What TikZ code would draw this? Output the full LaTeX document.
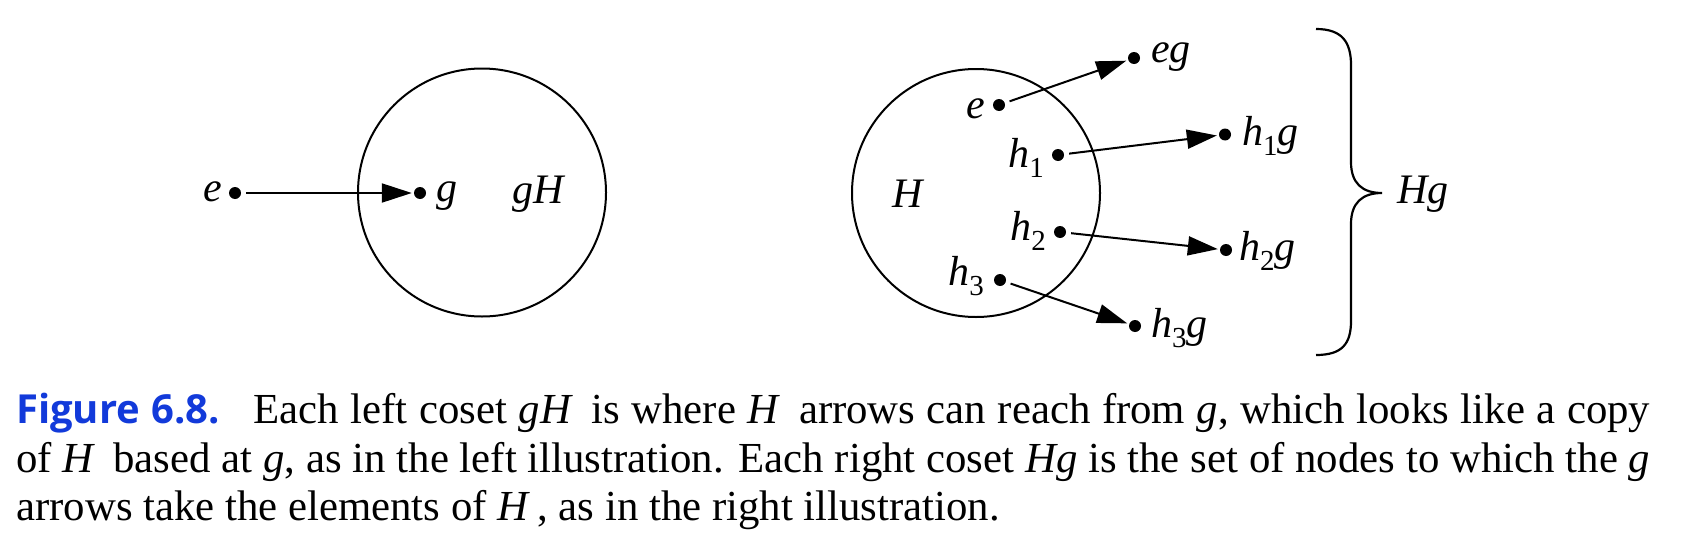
\documentclass[tikz,border=0pt]{standalone}
\usepackage{fontspec}
\setmainfont{Liberation Serif}
\newfontfamily\capfont{Open Sans}
\usetikzlibrary{arrows.meta}
\definecolor{figblue}{RGB}{18,58,218}
\newcommand{\sbs}[1]{\raisebox{-0.25em}{\upshape\fontsize{29}{29}\selectfont #1}}
\begin{document}
\begin{tikzpicture}[x=1pt,y=-1pt,
  dot/.style={circle,fill,inner sep=0pt,minimum size=12pt},
  lbl/.style={inner sep=0pt,font=\fontsize{42}{42}\selectfont\itshape},
  arr/.style={line width=2pt,-{Triangle[length=30pt,width=19pt]},shorten <=5pt,shorten >=2pt},
  ring/.style={circle,draw,line width=2pt,minimum size=248pt,inner sep=0pt},
  bracestyle/.style={line width=2.2pt}]
\useasboundingbox (0,0) rectangle (1698,546);
% left picture
\node[ring] (C1) at (482,192.5) {};
\node[dot] (eL) at (235,193) {};
\node[dot] (gL) at (420,193) {};
\draw[arr] (eL) -- (gL);
\node[lbl,anchor=base east] (eLl) at (222,201) {e};
\node[lbl,anchor=base west] (gLl) at (436,201) {g};
\node[lbl,anchor=base west] (gHl) at (512,203) {gH};
% right picture
\node[ring] (C2) at (976,193) {};
\node[dot] (eR) at (999,105) {};
\node[dot] (eg) at (1134,58) {};
\node[dot] (h1) at (1058,155) {};
\node[dot] (h1g) at (1225,134.5) {};
\node[dot] (h2) at (1060,232) {};
\node[dot] (h2g) at (1226,250) {};
\node[dot] (h3) at (1000,280) {};
\node[dot] (h3g) at (1135,326) {};
\draw[arr] (eR) -- (eg);
\draw[arr] (h1) -- (h1g);
\draw[arr] (h2) -- (h2g);
\draw[arr] (h3) -- (h3g);
\node[lbl,anchor=base west] (Hl) at (892,207) {H};
\node[lbl,anchor=base east] (eRl) at (985,118) {e};
\node[lbl,anchor=base east] (h1l) at (1044,167) {h\sbs{1}};
\node[lbl,anchor=base east] (h2l) at (1046,240) {h\sbs{2}};
\node[lbl,anchor=base east] (h3l) at (984,285) {h\sbs{3}};
\node[lbl,anchor=base west] (egl) at (1151,62) {eg};
\node[lbl,anchor=base west] (h1gl) at (1242,145) {h\sbs{1}g};
\node[lbl,anchor=base west] (h2gl) at (1239,260) {h\sbs{2}g};
\node[lbl,anchor=base west] (h3gl) at (1151,337) {h\sbs{3}g};
% brace
\draw[bracestyle] (1316,29) .. controls (1342,29) and (1351,42) .. (1351,65)
  -- (1351,162) .. controls (1351,183) and (1362,193) .. (1382,193)
  .. controls (1362,193) and (1351,203) .. (1351,224)
  -- (1351,321) .. controls (1351,344) and (1342,355) .. (1316,355);
\node[lbl,anchor=base west] (Hgl) at (1397,203) {Hg};
% caption
\node[anchor=north west,inner sep=0pt,text width=1634pt,align=justify,
  font=\fontsize{42.8}{48.5}\selectfont] (cap) at (16,393)
 {\textcolor{figblue}{\capfont\bfseries\fontsize{40}{48.5}\selectfont Figure 6.8.}\hspace{0.4em} Each left coset \textit{gH}\, is where \textit{H}\, arrows can reach from \textit{g}, which looks like a copy\linebreak
 of \textit{H}\, based at \textit{g}, as in the left illustration. Each right coset \textit{Hg} is the set of nodes to which the \textit{g}\linebreak
 arrows take the elements of \textit{H}\,, as in the right illustration.};
\end{tikzpicture}
\end{document}
